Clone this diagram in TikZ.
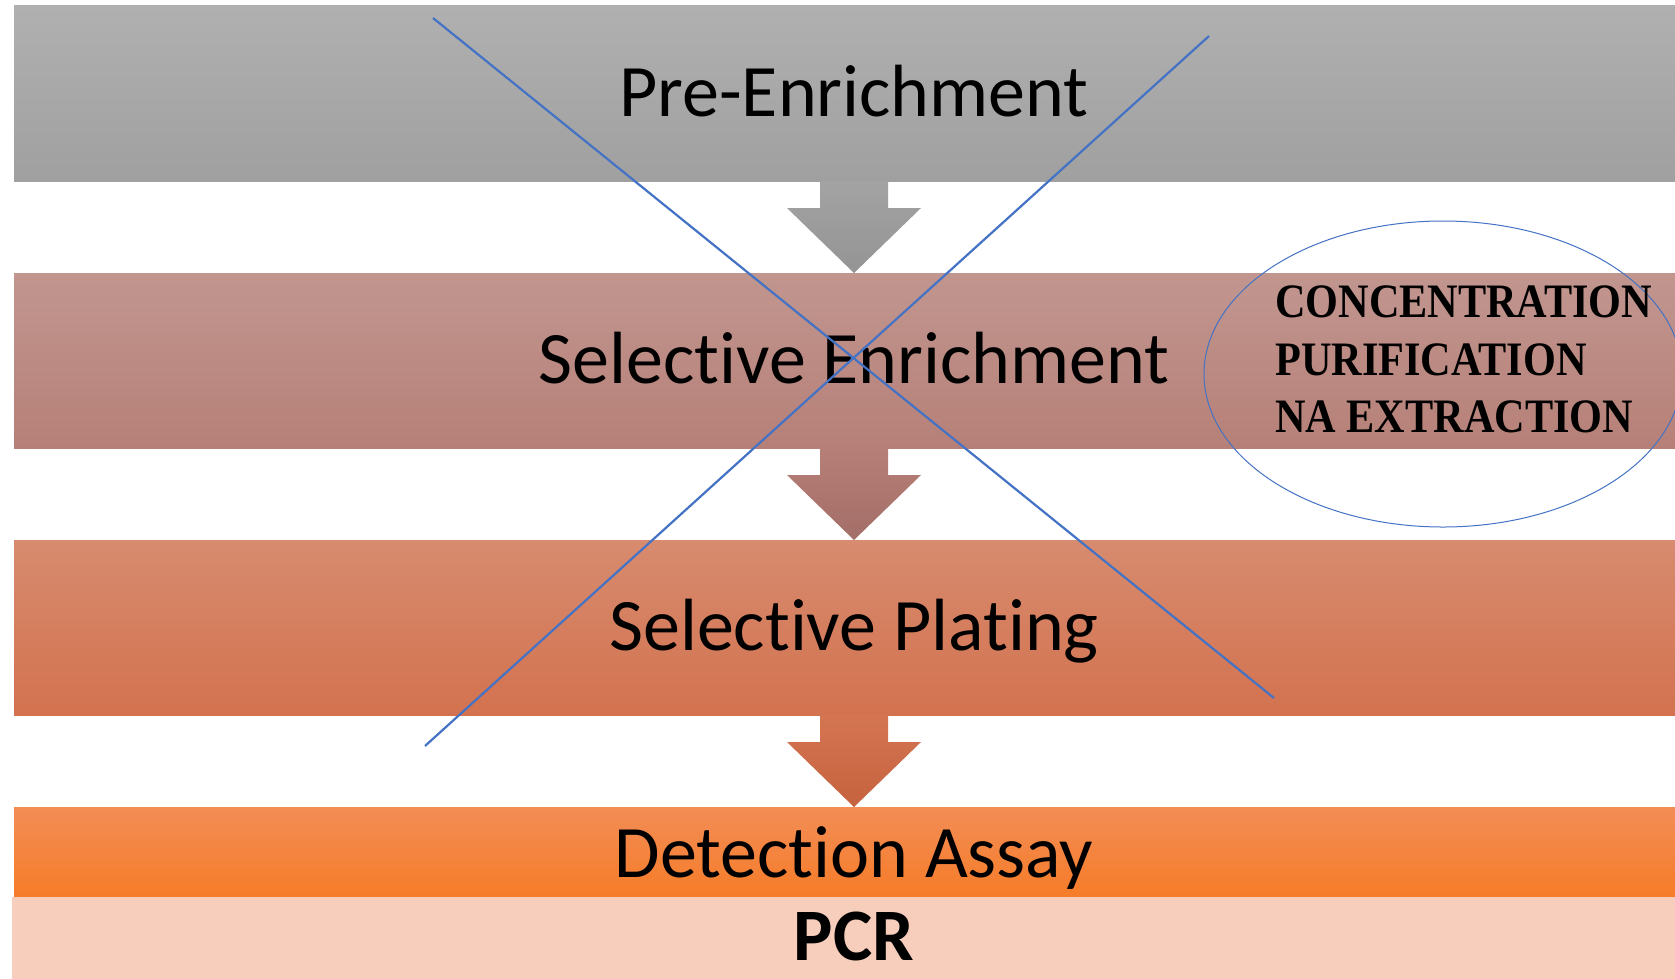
\documentclass[tikz,border=0pt]{standalone}
\usepackage{fontspec}
\setmainfont[Ligatures=NoCommon]{Carlito}
\newfontfamily\ellfont[FakeStretch=0.88]{Liberation Serif}
\usetikzlibrary{calc,shapes.geometric}
\definecolor{g1t}{RGB}{176,176,176}
\definecolor{g1b}{RGB}{160,160,160}
\definecolor{r2t}{RGB}{193,150,143}
\definecolor{r2b}{RGB}{182,128,120}
\definecolor{o3t}{RGB}{215,139,111}
\definecolor{o3b}{RGB}{211,114,79}
\definecolor{o4t}{RGB}{242,141,86}
\definecolor{o4b}{RGB}{246,124,40}
\definecolor{pcr}{RGB}{247,205,188}
\definecolor{a1t}{RGB}{163,163,163}
\definecolor{a1b}{RGB}{148,148,148}
\definecolor{a2t}{RGB}{182,128,120}
\definecolor{a2b}{RGB}{164,110,104}
\definecolor{a3t}{RGB}{212,117,82}
\definecolor{a3b}{RGB}{198,98,62}
\definecolor{xblue}{RGB}{68,114,196}
\tikzset{
  bar/.style={rectangle, inner sep=0pt, outer sep=0pt, minimum width=1680pt, anchor=north west},
  bartext/.style={inner sep=0pt, anchor=base, font=\fontsize{74}{80}\selectfont},
  elltext/.style={inner sep=0pt, anchor=base west, font=\ellfont\bfseries\fontsize{48}{56}\selectfont},
  crossline/.style={draw=xblue, line width=2.2pt},
}
\newcommand{\flowarrow}[4]{%
  \shade[top color=#3, bottom color=#4]
    ($(#1.south)+(-34,0)$) -- ($(#1.south)+(34,0)$) -- ($(#1.south)+(34,27)$) --
    ($(#1.south)+(67,27)$) -- ($(#2.north)$) -- ($(#1.south)+(-67,27)$) --
    ($(#1.south)+(-34,27)$) -- cycle;}
\begin{document}
\begin{tikzpicture}[x=1pt,y=-1pt]
\useasboundingbox (0,0) rectangle (1675,978);
\fill[white] (0,0) rectangle (1675,978);
\clip (0,0) rectangle (1675,978);
% bars
\node[bar, minimum height=176pt, top color=g1t, bottom color=g1b] (b1) at (14,5) {};
\node[bar, minimum height=175pt, top color=r2t, bottom color=r2b] (b2) at (14,273) {};
\node[bar, minimum height=175pt, top color=o3t, bottom color=o3b] (b3) at (14,540) {};
\node[bar, minimum height=90pt, top color=o4t, bottom color=o4b] (b4) at (14,807) {};
\node[bar, minimum height=90pt, fill=pcr] (b5) at (12,897) {};
% arrows
\flowarrow{b1}{b2}{a1t}{a1b}
\flowarrow{b2}{b3}{a2t}{a2b}
\flowarrow{b3}{b4}{a3t}{a3b}
% texts
\node[bartext] (t1) at ($(b1.center)+(0,23)$) {Pre-Enrichment};
\node[bartext] (t2) at ($(b2.center)+(0,23)$) {Selective Enrichment};
\node[bartext] (t3) at ($(b3.center)+(0,23)$) {Selective Plating};
\node[bartext] (t4) at ($(b4.center)+(0,25)$) {Detection Assay};
\node[bartext, font=\bfseries\fontsize{74}{80}\selectfont] (t5) at (854,960) {PCR};
% ellipse
\node[ellipse, draw=xblue, line width=1pt, minimum width=478pt, minimum height=306pt, inner sep=0pt] (ell) at (1443,374) {};
\node[elltext] (e1) at (1275,317) {CONCENTRATION};
\node[elltext] (e2) at (1275,375) {PURIFICATION};
\node[elltext] (e3) at (1275,432) {NA EXTRACTION};
% cross
\coordinate (c1a) at (433,18);
\coordinate (c1b) at (1274,698);
\coordinate (c2a) at (1209,36);
\coordinate (c2b) at (425,746);
\draw[crossline] (c1a) -- (c1b);
\draw[crossline] (c2a) -- (c2b);
\end{tikzpicture}
\end{document}
